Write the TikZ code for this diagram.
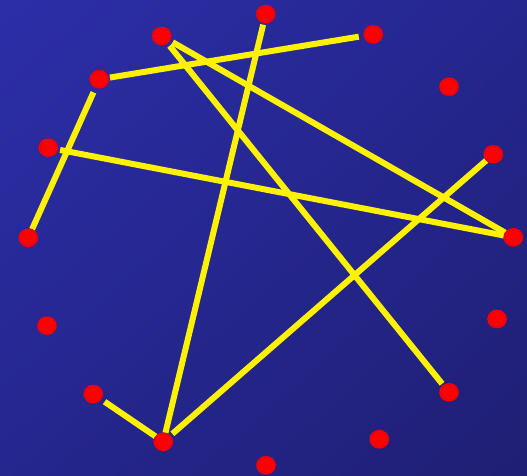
\documentclass[tikz,border=0pt]{standalone}
\usetikzlibrary{shapes.geometric,shadings}
\definecolor{bgA}{RGB}{44,46,168}
\definecolor{bgB}{RGB}{31,31,116}
\definecolor{bgM}{RGB}{37,38,142}
\definecolor{ring}{RGB}{205,0,30}
\tikzset{
  dot/.style={ellipse, fill=red, draw=ring, line width=0.45pt, double=red, double distance=0.9pt, minimum width=18pt, minimum height=17pt, inner sep=0pt},
  edge/.style={draw=yellow, line width=6pt}
}
\begin{document}
\begin{tikzpicture}[x=1pt,y=-1pt]
\shade[upper left=bgA, lower right=bgB, upper right=bgM, lower left=bgM] (0,0) rectangle (527,476);
\useasboundingbox (0,0) rectangle (527,476);
\coordinate (p1) at (265.7,14);
\coordinate (p2) at (161.7,36);
\coordinate (p3) at (373.3,34.3);
\coordinate (p4) at (99.3,79.3);
\coordinate (p5) at (449,86.7);
\coordinate (p6) at (48.3,147.7);
\coordinate (p7) at (493.3,154.3);
\coordinate (p8) at (28.3,237.7);
\coordinate (p9) at (513.3,237.3);
\coordinate (p10) at (47,325.7);
\coordinate (p11) at (497,319);
\coordinate (p12) at (93.3,394);
\coordinate (p13) at (449,392.3);
\coordinate (p14) at (163.3,441.7);
\coordinate (p15) at (379.3,439.3);
\coordinate (p16) at (266,465.3);
\draw[edge, shorten <=14.7pt, shorten >=10.8pt] (p3) -- (p4);
\draw[edge, shorten <=14.3pt, shorten >=9.2pt] (p4) -- (p8);
\draw[edge, shorten <=12pt, shorten >=8.3pt] (p6) -- (p9);
\draw[edge, shorten <=12.6pt, shorten >=8pt] (p2) -- (p9);
\draw[edge, shorten <=12.6pt, shorten >=11pt] (p2) -- (p13);
\draw[edge, shorten <=11pt, shorten >=8.8pt] (p1) -- (p14);
\draw[edge, shorten <=9.4pt, shorten >=12pt] (p7) -- (p14);
\draw[edge, shorten <=13.7pt, shorten >=7.4pt] (p12) -- (p14);
\foreach \i in {1,...,16} { \node[dot] (d\i) at (p\i) {}; }
\end{tikzpicture}
\end{document}
